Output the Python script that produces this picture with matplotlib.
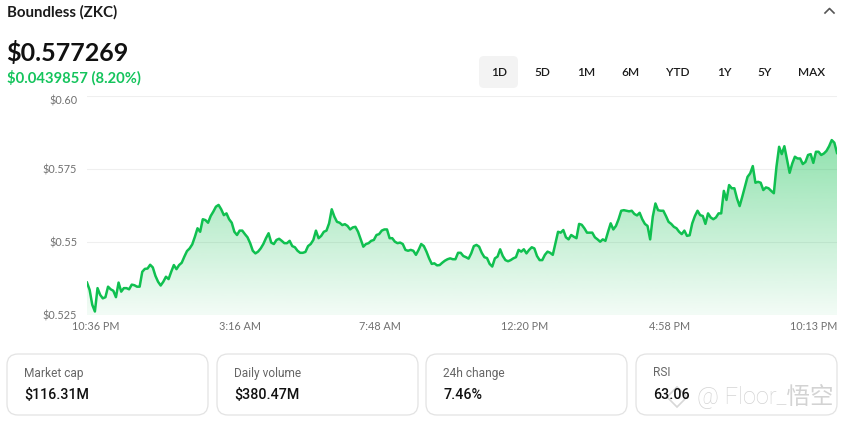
import numpy as np
import matplotlib
matplotlib.use("Agg")
import matplotlib.pyplot as plt
from matplotlib.patches import FancyBboxPatch
from matplotlib.lines import Line2D
from matplotlib import font_manager

# price series (one day, roughly evenly spaced)
seg_night = [
    0.5361, 0.5336, 0.5285, 0.5262, 0.5342, 0.5319, 0.5307, 0.5311, 0.5347, 0.5338,
    0.5333, 0.5311, 0.5361, 0.5330, 0.5342, 0.5342, 0.5338, 0.5354, 0.5352, 0.5347,
    0.5347, 0.5398, 0.5408, 0.5409, 0.5422, 0.5413, 0.5384, 0.5364, 0.5351, 0.5364,
    0.5381, 0.5373, 0.5398, 0.5421, 0.5407, 0.5421, 0.5429, 0.5450, 0.5469, 0.5478,
    0.5492, 0.5518, 0.5547, 0.5535, 0.5578, 0.5575, 0.5566, 0.5589, 0.5604, 0.5621,
    0.5627, 0.5612, 0.5592, 0.5598, 0.5578, 0.5566, 0.5535, 0.5524, 0.5539, 0.5539,
    0.5527, 0.5516, 0.5496, 0.5470, 0.5461, 0.5467, 0.5478, 0.5493, 0.5513, 0.5530,
    0.5498, 0.5493, 0.5507, 0.5511,
]
seg_morning = [
    0.5504, 0.5496, 0.5496, 0.5504, 0.5486, 0.5482, 0.5470, 0.5463, 0.5463, 0.5466,
    0.5486, 0.5493, 0.5507, 0.5539, 0.5513, 0.5521, 0.5535, 0.5539, 0.5564, 0.5612,
    0.5587, 0.5569, 0.5566, 0.5558, 0.5561, 0.5555, 0.5543, 0.5550, 0.5552, 0.5535,
    0.5509, 0.5484, 0.5493, 0.5496, 0.5504, 0.5507, 0.5524, 0.5527, 0.5539, 0.5543,
    0.5543, 0.5513, 0.5513, 0.5501, 0.5496, 0.5498, 0.5493, 0.5473, 0.5470, 0.5473,
    0.5470, 0.5456, 0.5473, 0.5493, 0.5486, 0.5467, 0.5444, 0.5425, 0.5427, 0.5420,
    0.5421, 0.5429, 0.5436, 0.5441, 0.5444, 0.5441, 0.5441, 0.5463, 0.5463, 0.5452,
    0.5448, 0.5443, 0.5461, 0.5486, 0.5490,
]
seg_afternoon = [
    0.5484, 0.5463, 0.5448, 0.5445, 0.5425, 0.5416, 0.5444, 0.5450, 0.5475, 0.5452,
    0.5438, 0.5434, 0.5438, 0.5444, 0.5448, 0.5473, 0.5467, 0.5475, 0.5461, 0.5473,
    0.5482, 0.5478, 0.5452, 0.5438, 0.5438, 0.5456, 0.5467, 0.5463, 0.5456, 0.5496,
    0.5535, 0.5532, 0.5541, 0.5516, 0.5509, 0.5524, 0.5518, 0.5513, 0.5562, 0.5559,
    0.5547, 0.5532, 0.5532, 0.5532, 0.5516, 0.5509, 0.5501, 0.5509, 0.5504, 0.5535,
    0.5564, 0.5543, 0.5555, 0.5578, 0.5607, 0.5609, 0.5607, 0.5605, 0.5607, 0.5596,
    0.5591, 0.5600, 0.5578, 0.5562, 0.5555, 0.5509, 0.5587, 0.5632, 0.5609, 0.5607,
    0.5607,
]
seg_evening = [
    0.5589, 0.5569, 0.5562, 0.5552, 0.5547, 0.5535, 0.5527, 0.5539, 0.5521, 0.5523,
    0.5564, 0.5589, 0.5607, 0.5592, 0.5589, 0.5562, 0.5598, 0.5584, 0.5578, 0.5584,
    0.5598, 0.5598, 0.5675, 0.5644, 0.5695, 0.5684, 0.5684, 0.5649, 0.5623, 0.5655,
    0.5689, 0.5723, 0.5735, 0.5760, 0.5703, 0.5706, 0.5703, 0.5678, 0.5687, 0.5684,
    0.5675, 0.5667, 0.5758, 0.5826, 0.5801, 0.5828, 0.5783, 0.5737, 0.5769, 0.5792,
    0.5786, 0.5786, 0.5767, 0.5774, 0.5798, 0.5801, 0.5771, 0.5809, 0.5809, 0.5798,
    0.5803, 0.5812, 0.5828, 0.5849, 0.5840, 0.5805,
]
prices = np.array(seg_night + seg_morning + seg_afternoon + seg_evening)

time_labels = ["10:36 PM", "3:16 AM", "7:48 AM", "12:20 PM", "4:58 PM", "10:13 PM"]
time_pos = [0.011, 0.204, 0.391, 0.584, 0.777, 0.969]  # fraction of the series
y_ticks = [0.525, 0.55, 0.575, 0.60]
y_labels = ["$0.525", "$0.55", "$0.575", "$0.60"]

ranges = ["1D", "5D", "1M", "6M", "YTD", "1Y", "5Y", "MAX"]
stat_names = ["Market cap", "Daily volume", "24h change", "RSI"]
stat_values = ["$116.31M", "$380.47M", "7.46%", "63.06"]

GREEN = "#10c050"
W, H = 843, 422

# pick a header font that actually ships a bold face
names = {f.name for f in font_manager.fontManager.ttflist if f.weight in (600, 700, "bold")}
HEAD = next((f for f in ["Lato", "Open Sans", "Noto Sans", "Roboto"] if f in names), "DejaVu Sans")

fig = plt.figure(figsize=(W / 100, H / 100), dpi=100)
fig.patch.set_facecolor("white")


def fx(x):
    return x / W


def fy(y):
    return 1 - y / H


def rbox(x0, y0, x1, y1, r, fc, ec, lw=1.0):
    p = FancyBboxPatch((x0 / 100, (H - y1) / 100), (x1 - x0) / 100, (y1 - y0) / 100,
                       boxstyle=f"round,pad=0,rounding_size={r / 100}",
                       transform=fig.dpi_scale_trans, fc=fc, ec=ec, lw=lw)
    fig.add_artist(p)


# header
fig.text(fx(7), fy(12), "Boundless (ZKC)", fontsize=10.8, fontweight="bold",
         family=HEAD, color="#1a1a1a", va="center")
fig.add_artist(Line2D([fx(825), fx(829.5), fx(834)], [fy(13), fy(8.5), fy(13)],
                      transform=fig.transFigure, color="#555555", lw=1.2))
fig.text(fx(6), fy(53), "$0.577269", fontsize=18, fontweight="bold",
         family=HEAD, color="#111111", va="center")
fig.text(fx(7), fy(78), "$0.0439857 (8.20%)", fontsize=10.6, fontweight="bold",
         family=HEAD, color="#14c45c", va="center")

# range buttons
btn_x = [499, 542, 586, 630, 678, 724, 765, 812]
rbox(479, 56, 518, 88, 5, "#f3f3f3", "none")
for bx, lab in zip(btn_x, ranges):
    fig.text(fx(bx), fy(72), lab, fontsize=8.6, family=HEAD, fontweight="semibold",
             color="#1a1a1a", ha="center", va="center")

# price chart
ax = fig.add_axes([87 / W, (H - 315) / H, 750 / W, 219 / H])
n = len(prices)
x = np.arange(n)
ax.plot(x, prices, color=GREEN, lw=1.8, zorder=3, solid_joinstyle="round")

poly = ax.fill_between(x, prices, 0.525, color="none")
top = prices.max()
alpha = np.linspace(0.05, 0.46, 256)
grad = np.zeros((256, 1, 4))
grad[:, 0, :3] = matplotlib.colors.to_rgb(GREEN)
grad[:, 0, 3] = alpha
im = ax.imshow(grad, extent=[0, n - 1, 0.525, top], aspect="auto", origin="lower", zorder=2)
im.set_clip_path(poly.get_paths()[0], transform=ax.transData)

ax.set_xlim(0, n - 1)
ax.set_ylim(0.525, 0.60)
ax.set_yticks(y_ticks)
ax.set_yticklabels(y_labels)
ax.set_xticks([p * (n - 1) for p in time_pos])
ax.set_xticklabels(time_labels)
for s in ax.spines.values():
    s.set_visible(False)
ax.grid(axis="y", color="#efefef", lw=0.8)
ax.set_axisbelow(True)
ax.tick_params(length=0, labelsize=7.8, labelcolor="#707070", pad=7)
ax.tick_params(axis="x", pad=4)
for t in ax.get_yticklabels() + ax.get_xticklabels():
    t.set_family(HEAD)
ax.get_yticklabels()[-1].set_va("top")
ax.set_facecolor("none")

# stat cards
card_x = [7, 217, 426, 636]
for cx, name, val in zip(card_x, stat_names, stat_values):
    rbox(cx, 354, cx + 201, 415, 11, "white", "#e3e3e3", lw=0.9)
    fig.text(fx(cx + 17), fy(373), name, fontsize=8.6, family="Roboto",
             color="#666666", va="center")
    fig.text(fx(cx + 17), fy(395), val, fontsize=10.3, family="Roboto",
             fontweight="medium", color="#111111", va="center")

# watermark (diamond mark + handle)
fig.add_artist(Line2D([fx(677)], [fy(397)], transform=fig.transFigure, marker="D",
                      ms=10, mfc="none", mec="#d3d3d3", mew=1.2, alpha=0.9))
fig.text(fx(697), fy(396), "@ Floor_悟空", fontsize=17, color="#cfcfcf", va="center",
         family=["Roboto", "Noto Sans CJK SC"], fontweight="light", alpha=0.9)

fig.savefig("out.png", dpi=100)
